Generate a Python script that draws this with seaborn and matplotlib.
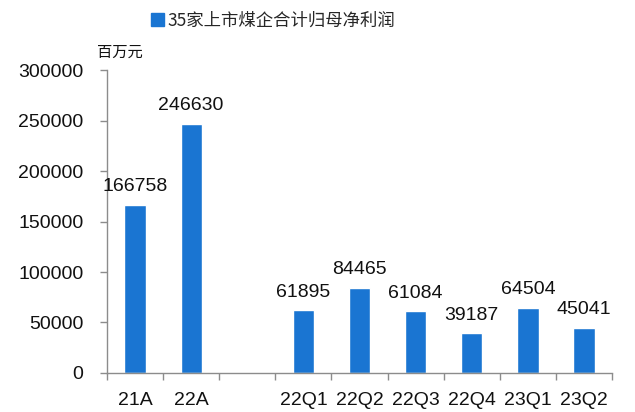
import matplotlib
matplotlib.use("Agg")
import matplotlib.pyplot as plt
import numpy as np
import pandas as pd
import seaborn as sns
from matplotlib.ticker import FixedLocator

# chart data
categories = ["21A", "22A", "22Q1", "22Q2", "22Q3", "22Q4", "23Q1", "23Q2"]
profits = [166758, 246630, 61895, 84465, 61084, 39187, 64504, 45041]
# slot order on the x axis, with one empty slot between annual and quarterly figures
slot_order = ["21A", "22A", " ", "22Q1", "22Q2", "22Q3", "22Q4", "23Q1", "23Q2"]
series_name = "35家上市煤企合计归母净利润"
unit_label = "百万元"
y_ticks = [0, 50000, 100000, 150000, 200000, 250000, 300000]

BAR_COLOR = "#1a75d2"
AXIS_COLOR = "#8c8c8c"


def main() -> None:
    sns.set_style("white")
    plt.rcParams["font.family"] = ["Liberation Sans", "Noto Sans CJK SC", "DejaVu Sans"]

    df = pd.DataFrame({"period": categories, "profit": profits})

    fig = plt.figure(figsize=(6.35, 4.12), dpi=100)
    ax = fig.add_axes([0.1685, 0.0947, 0.7953, 0.7353])

    sns.barplot(data=df, x="period", y="profit", order=slot_order,
                color=BAR_COLOR, saturation=1, width=0.38, ax=ax)

    for container in ax.containers:
        ax.bar_label(container, labels=[f"{int(v)}" for v in container.datavalues],
                     padding=7, fontsize=14, color="#111111")

    ax.set_ylim(0, 300000)
    ax.set_xlim(-0.5, len(slot_order) - 0.5)
    ax.set_yticks(y_ticks)
    ax.set_yticklabels([str(t) for t in y_ticks], fontsize=14, color="#111111")
    ax.tick_params(axis="y", direction="out", length=5, width=1, color=AXIS_COLOR,
                   pad=12, left=True)

    ax.set_xticks(range(len(slot_order)))
    ax.set_xticklabels(slot_order, fontsize=14, color="#111111")
    ax.tick_params(axis="x", which="major", length=0, pad=14)
    ax.xaxis.set_minor_locator(FixedLocator(np.arange(-0.5, len(slot_order), 1.0)))
    ax.tick_params(axis="x", which="minor", direction="out", length=5, width=1,
                   color=AXIS_COLOR, bottom=True)

    ax.set_xlabel("")
    ax.set_ylabel("")
    for side in ["top", "right"]:
        ax.spines[side].set_visible(False)
    for side in ["left", "bottom"]:
        ax.spines[side].set_color(AXIS_COLOR)
        ax.spines[side].set_linewidth(1)

    # legend at the top
    handle = plt.Rectangle((0, 0), 1, 1, color=BAR_COLOR)
    fig.legend([handle], [series_name], loc="upper center",
               bbox_to_anchor=(0.43, 1.01), frameon=False,
               handlelength=0.7, handleheight=0.7, handletextpad=0.2,
               prop={"family": ["Noto Sans CJK SC", "DejaVu Sans"], "size": 12.5})

    fig.text(0.153, 0.872, unit_label, fontsize=11, ha="left", va="center",
             family=["Noto Sans CJK SC", "DejaVu Sans"], color="#111111")

    fig.savefig("out.png", dpi=100)
    plt.close(fig)


if __name__ == "__main__":
    main()
